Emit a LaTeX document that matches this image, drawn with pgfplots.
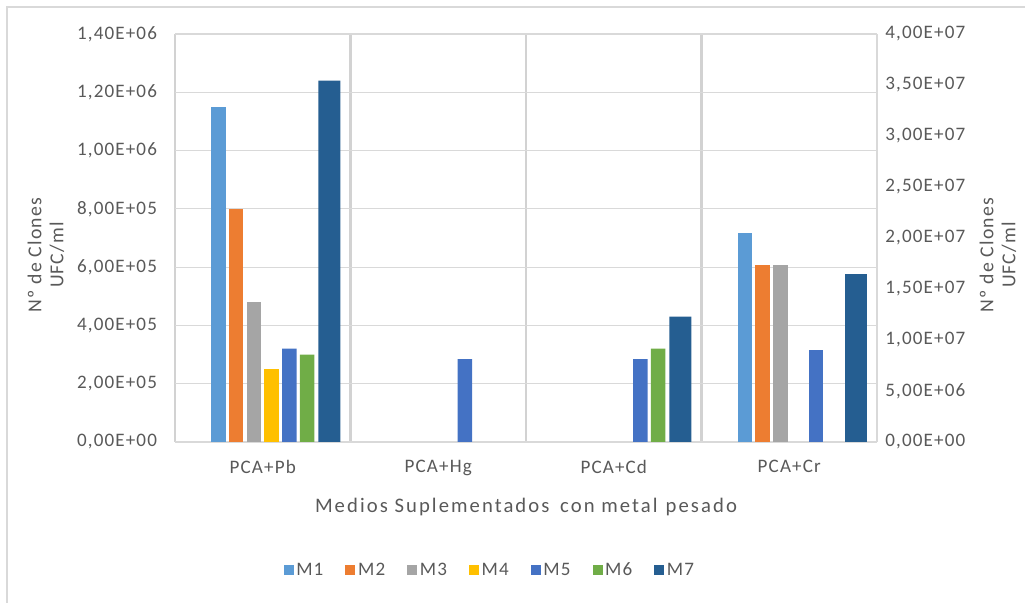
\documentclass[border=0pt]{standalone}
\usepackage{pgfplots}
\pgfplotsset{compat=1.18}
\usepackage{fontspec}
\setmainfont{Carlito}[LetterSpace=6]
\newfontfamily\widefont{Carlito}[LetterSpace=10]
\definecolor{cM1}{HTML}{5B9BD5}
\definecolor{cM2}{HTML}{ED7D31}
\definecolor{cM3}{HTML}{A5A5A5}
\definecolor{cM4}{HTML}{FFC000}
\definecolor{cM5}{HTML}{4472C4}
\definecolor{cM6}{HTML}{70AD47}
\definecolor{cM7}{HTML}{255E91}
\definecolor{txt}{HTML}{595959}
\definecolor{grd}{HTML}{D9D9D9}
\definecolor{sep}{HTML}{D2D2D2}
\newcommand{\fs}{\fontsize{14.3}{16}\selectfont}
\begin{document}
\begin{tikzpicture}
\useasboundingbox (0pt,0pt) rectangle (768.75pt,452.25pt);
\draw[grd, line width=1.2pt] (5.25pt,0pt) -- (5.25pt,447pt) -- (768.75pt,447pt);
\pgfplotsset{
  every axis/.append style={
    scale only axis, width=526.5pt, height=306pt,
    xmin=-0.5, xmax=3.5,
    font=\fs,
    tick label style={color=txt},
    major tick length=0pt, minor tick length=0pt,
    scaled y ticks=false,
    /pgf/number format/assume math mode=true,
  },
}
% primary axis
\begin{axis}[
  at={(131.25pt,120.75pt)}, anchor=south west,
  axis x line*=bottom, axis y line*=left,
  x axis line style={draw=grd, line width=1pt, -},
  y axis line style={draw=none},
  ymin=0, ymax=1.4e6,
  ytick={0,2e5,4e5,6e5,8e5,1e6,1.2e6,1.4e6},
  yticklabels={{0,00E+00},{2,00E+05},{4,00E+05},{6,00E+05},{8,00E+05},{1,00E+06},{1,20E+06},{1,40E+06}},
  yticklabel style={xshift=-10pt},
  xtick={0,1,2,3},
  xticklabels={PCA+Pb,PCA+Hg,PCA+Cd,PCA+Cr},
  xticklabel style={yshift=-10pt},
  minor xtick={-0.5,0.5,1.5,2.5},
  xminorgrids, ymajorgrids,
  minor grid style={draw=sep, line width=2pt},
  major grid style={draw=grd, line width=0.8pt},
  extra x ticks={3.5}, extra x tick labels={},
  extra x tick style={grid=major, major grid style={draw=grd, line width=0.8pt}},
  xlabel={Medios Suplementados\hspace{3pt} con metal\hspace{1pt} pesado},
  xlabel style={at={(rel axis cs:0.5,-0.159)}, anchor=center, color=txt, font=\widefont\fontsize{15.5}{17}\selectfont},
  legend columns=7,
  legend style={at={(rel axis cs:0.449,-0.314)}, anchor=center, draw=none, fill=none,
    font=\fs\color{txt},
    /tikz/every even column/.append style={column sep=14.5pt}},
  legend image code/.code={\fill[#1] (0pt,-3.75pt) rectangle (7.5pt,3.75pt);},
  every axis plot/.append style={ybar, bar shift=0pt, draw=none, bar width=0.083},
]
\addplot[fill=cM1] coordinates {(-0.253,1.15e6)};
\addplot[fill=cM2] coordinates {(-0.152,8.0e5)};
\addplot[fill=cM3] coordinates {(-0.051,4.8e5)};
\addplot[fill=cM4] coordinates {(0.051,2.5e5)};
\addplot[fill=cM5] coordinates {(0.152,3.2e5) (1.152,2.84e5) (2.152,2.84e5)};
\addplot[fill=cM6] coordinates {(0.253,3.0e5) (2.253,3.2e5)};
\addplot[fill=cM7, bar width=0.125] coordinates {(0.38,1.24e6) (2.38,4.3e5)};
\legend{M1,M2,M3,M4,M5,M6,M7}
\end{axis}
% secondary axis
\begin{axis}[
  at={(131.25pt,120.75pt)}, anchor=south west,
  axis x line=none, axis y line*=right,
  y axis line style={draw=none},
  ymin=0, ymax=4e7,
  ytick={0,5e6,1e7,1.5e7,2e7,2.5e7,3e7,3.5e7,4e7},
  yticklabels={{0,00E+00},{5,00E+06},{1,00E+07},{1,50E+07},{2,00E+07},{2,50E+07},{3,00E+07},{3,50E+07},{4,00E+07}},
  yticklabel style={xshift=2.7pt},
  every axis plot/.append style={ybar, bar shift=0pt, draw=none, bar width=0.083, forget plot},
]
\addplot[fill=cM1] coordinates {(2.747,2.05e7)};
\addplot[fill=cM2] coordinates {(2.848,1.735e7)};
\addplot[fill=cM3] coordinates {(2.949,1.735e7)};
\addplot[fill=cM5] coordinates {(3.152,9.0e6)};
\addplot[fill=cM7, bar width=0.125] coordinates {(3.38,1.647e7)};
\end{axis}
\node[rotate=90, align=center, text=txt, font=\fontsize{14.8}{16.5}\selectfont] at (34.5pt,261pt) {Nº de Clones\\UFC/ml};
\node[rotate=90, align=center, text=txt, font=\fontsize{14.8}{16.5}\selectfont] at (748.5pt,261pt) {Nº de Clones\\UFC/ml};
\end{tikzpicture}
\end{document}
